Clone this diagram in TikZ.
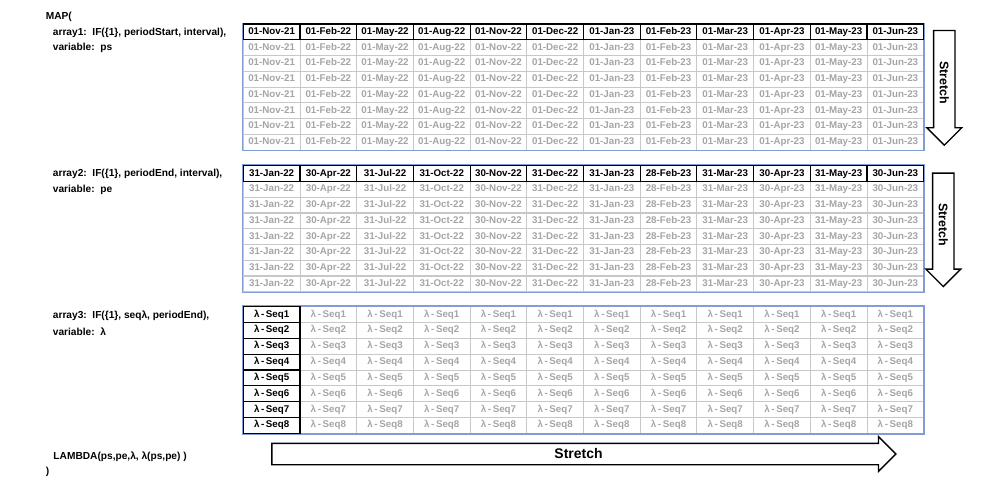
\documentclass[tikz,border=0pt]{standalone}
\usepackage{fontspec}
\setmainfont{Liberation Sans}
\usetikzlibrary{shapes.arrows, positioning}
\definecolor{frameBlue}{RGB}{128,158,212}
\definecolor{gridGray}{RGB}{200,200,200}
\definecolor{copyGray}{RGB}{165,165,165}
\tikzset{
    x=1bp, y=-1bp, % one unit is one pixel of the picture, y runs downwards
    cellFont/.style={font=\bfseries\fontsize{9.8}{11}\selectfont}, % text of the cells
    labelFont/.style={font=\bfseries\fontsize{10.2}{12}\selectfont}, % text on the left
}

\begin{document}
\begin{tikzpicture}[
    cellStyle/.style={rectangle, draw=gridGray, line width=0.9pt, text=copyGray, cellFont,
                      minimum width=56.7bp, minimum height=15.8bp, inner sep=0pt,
                      text height=7bp, text depth=2bp},
    headStyle/.style={cellStyle, draw=black, line width=1.1pt, text=black},
    labelStyle/.style={anchor=west, inner sep=0pt, labelFont},
    stretchStyle/.style={single arrow, draw=black, line width=1.4pt, fill=white,
                         single arrow head extend=6.7bp, inner xsep=0pt, inner ysep=5.5bp,
                         text height=9bp, text depth=0bp, font=\bfseries\fontsize{12.5}{14}\selectfont},
]
\useasboundingbox (0,0) rectangle (999,490);

% the formula, line by line
\node[labelStyle] (mapOpen) at (45.7,16.7) {MAP(};
\node[labelStyle] (arrOne) at (52.7,33.3) {array1:\ \ IF(\{1\}, periodStart, interval),};
\node[labelStyle] (varOne) at (52.7,48.3) {variable:\ \ ps};
\node[labelStyle] (arrTwo) at (52.7,174.3) {array2:\ \ IF(\{1\}, periodEnd, interval),};
\node[labelStyle] (varTwo) at (52.7,190) {variable:\ \ pe};
\node[labelStyle] (arrThree) at (52.7,315.7) {array3:\ \ IF(\{1\}, seqλ, periodEnd),};
\node[labelStyle] (varThree) at (52.7,331.7) {variable:\ \ λ};
\node[labelStyle] (lambdaCall) at (53.3,456.7) {LAMBDA(ps,pe,λ, λ(ps,pe) )};
\node[labelStyle] (mapClose) at (45.7,471.7) {)};

% array1: period starts
\foreach \d [count=\c] in {01-Nov-21,01-Feb-22,01-May-22,01-Aug-22,01-Nov-22,01-Dec-22,
                           01-Jan-23,01-Feb-23,01-Mar-23,01-Apr-23,01-May-23,01-Jun-23}{
    \foreach \r in {2,...,8}
        \node[cellStyle] (ps-\r-\c) at ({243.3+56.7*(\c-0.5)},{24+15.75*(\r-0.5)}) {\d};
}
\draw[frameBlue, line width=1.2pt] (242.6,23.3) rectangle (924,150.7);
\foreach \d [count=\c] in {01-Nov-21,01-Feb-22,01-May-22,01-Aug-22,01-Nov-22,01-Dec-22,
                           01-Jan-23,01-Feb-23,01-Mar-23,01-Apr-23,01-May-23,01-Jun-23}
    \node[headStyle] (ps-1-\c) at ({243.3+56.7*(\c-0.5)},{24+15.75*0.5}) {\d};

% array2: period ends
\foreach \d [count=\c] in {31-Jan-22,30-Apr-22,31-Jul-22,31-Oct-22,30-Nov-22,31-Dec-22,
                           31-Jan-23,28-Feb-23,31-Mar-23,30-Apr-23,31-May-23,30-Jun-23}{
    \foreach \r in {2,...,8}
        \node[cellStyle] (pe-\r-\c) at ({243.3+56.7*(\c-0.5)},{165.7+15.75*(\r-0.5)}) {\d};
}
\draw[frameBlue, line width=1.2pt] (242.6,165) rectangle (924,292.4);
\foreach \d [count=\c] in {31-Jan-22,30-Apr-22,31-Jul-22,31-Oct-22,30-Nov-22,31-Dec-22,
                           31-Jan-23,28-Feb-23,31-Mar-23,30-Apr-23,31-May-23,30-Jun-23}
    \node[headStyle] (pe-1-\c) at ({243.3+56.7*(\c-0.5)},{165.7+15.75*0.5}) {\d};

% array3: the lambda sequence
\foreach \r in {1,...,8}{
    \foreach \c in {2,...,12}
        \node[cellStyle] (lam-\r-\c) at ({243.3+56.7*(\c-0.5)},{306.7+15.83*(\r-0.5)}) {λ\,-\,Seq\r};
}
\draw[frameBlue, line width=1.2pt] (242.6,306) rectangle (924,434);
\foreach \r in {1,...,8}
    \node[headStyle] (lam-\r-1) at ({243.3+56.7*0.5},{306.7+15.83*(\r-0.5)}) {λ\,-\,Seq\r};

% the stretch arrows
\node[stretchStyle, rotate=-90, minimum height=114.7bp] (stretchPs) at (944.3,82.5) {Stretch};
\node[stretchStyle, rotate=-90, minimum height=113.4bp] (stretchPe) at (943.3,224.5) {Stretch};
\node[stretchStyle, minimum height=624bp, font=\bfseries\fontsize{14}{15}\selectfont] (stretchLam) at (578.5,454) {Stretch};
\end{tikzpicture}
\end{document}
